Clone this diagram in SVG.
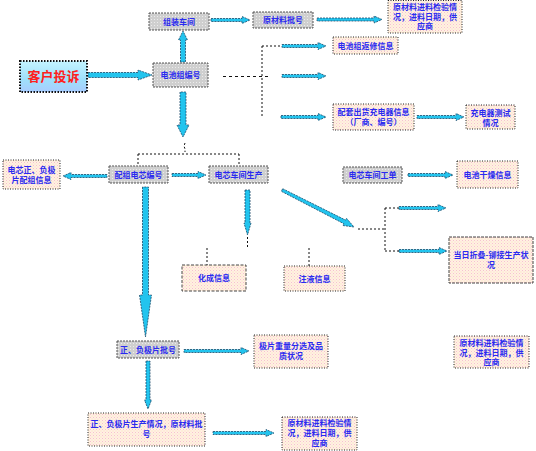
<svg xmlns="http://www.w3.org/2000/svg" width="536" height="451" viewBox="0 0 536 451">
<defs>
<pattern id="pk" width="3" height="3" patternUnits="userSpaceOnUse"><rect width="3" height="3" fill="#fff0e4"/><rect width="1" height="1" fill="#f6c4cc"/><rect x="1.5" y="1.5" width="1" height="1" fill="#fbe0b8"/></pattern>
<pattern id="gy" width="3" height="3" patternUnits="userSpaceOnUse"><rect width="3" height="3" fill="#cfcfcf"/><rect x="1" y="1" width="1" height="1" fill="#ececec"/></pattern>
<linearGradient id="bl" x1="0" y1="0" x2="0" y2="1"><stop offset="0" stop-color="#c4f4ff"/><stop offset="0.6" stop-color="#9ee0fb"/><stop offset="1" stop-color="#a8ccff"/></linearGradient>
</defs>
<style>
.g{fill:url(#gy);stroke:#555;stroke-width:1;stroke-dasharray:2 1}
.p{fill:url(#pk);stroke:#222;stroke-width:1;stroke-dasharray:1 1.5}
.t{font-family:"Noto Sans CJK SC","Noto Sans",sans-serif;font-size:8px;font-weight:bold;fill:#2a2af0;text-anchor:middle}
.ar{fill:#22c4ee;stroke:#1d4a6a;stroke-width:0.8;stroke-dasharray:2 1}
.d{fill:none;stroke:#111;stroke-width:1;stroke-dasharray:2 2}
</style>

<g id="connectors">
<polygon class="ar" points="88,72.5 138,72.5 138,70 152,75 138,80 138,77.5 88,77.5"/>
<polygon class="ar" points="180.5,62 180.5,40 178.5,40 183,31 187.5,40 185.5,40 185.5,62"/>
<polygon class="ar" points="211,18.5 242,18.5 242,16.5 250,20 242,23.5 242,21.5 211,21.5"/>
<polygon class="ar" points="317,18 374,18 374,16 382,19.5 374,23 374,21 317,21"/>
<polygon class="ar" points="282,44.5 318,44.5 318,42.5 326,46 318,49.5 318,47.5 282,47.5"/>
<polygon class="ar" points="282,74.5 318,74.5 318,72.5 326,76 318,79.5 318,77.5 282,77.5"/>
<polygon class="ar" points="281,115.5 318,115.5 318,113.5 326,117 318,120.5 318,118.5 281,118.5"/>
<polygon class="ar" points="417,115.5 456,115.5 456,113.5 464,117 456,120.5 456,118.5 417,118.5"/>
<polygon class="ar" points="180,92 180,125 177,125 183,137 189,125 186,125 186,92"/>
<polygon class="ar" points="107,174.5 71,174.5 71,172.5 63,176 71,179.5 71,177.5 107,177.5"/>
<polygon class="ar" points="172,173.5 198,173.5 198,171.5 206,175 198,178.5 198,176.5 172,176.5"/>
<polygon class="ar" points="408,173.5 445,173.5 445,171.5 453,175 445,178.5 445,176.5 408,176.5"/>
<polygon class="ar" points="245,190 245,223 244,223 247.5,235 251,223 250,223 250,190"/>
<polygon class="ar" points="282.7,188.7 345.6,220.1 346.5,218.3 354,227 342.9,225.5 343.8,223.7 281.3,191.3"/>
<polygon class="ar" points="399,206.5 438,206.5 438,204.5 446,208 438,211.5 438,209.5 399,209.5"/>
<polygon class="ar" points="399,249.5 439,249.5 439,247.5 447,251 439,254.5 439,252.5 399,252.5"/>
<polygon class="ar" points="142.5,187 142.5,295 139.5,295 145.5,337 151.5,295 148.5,295 148.5,187"/>
<polygon class="ar" points="146,361 146,400 144.5,400 148,409 151.5,400 150,400 150,361"/>
<polygon class="ar" points="184,349.5 241,349.5 241,347.5 249,351 241,354.5 241,352.5 184,352.5"/>
<polygon class="ar" points="213,431.5 266,431.5 266,429.5 274,433 266,436.5 266,434.5 213,434.5"/>
<path class="d" d="M223,76.5 H270" style="stroke-dasharray:3 3"/>
<path class="d" d="M262,46 V118 M262,46 H282"/>
<path class="d" d="M185,143 l-1,3 l1,3 V152"/>
<path class="d" d="M138,154 H239 M138,154 V166 M239,154 V166"/>
<path class="d" d="M247.5,237 V249"/>
<path class="d" d="M207,248 V265 M309,248 V266"/>
<path class="d" d="M358,229 H385 M385,208 V251 M385,208 H399 M385,251 H399"/>
</g>

<g id="n1"><rect x="20" y="61" width="67" height="31" fill="url(#bl)" stroke="#111" stroke-width="2" stroke-dasharray="1.5 1.5"/><text x="53.5" y="81" style="font-family:'Noto Sans CJK SC',sans-serif;font-size:13px;font-weight:bold;fill:#ff2020;text-anchor:middle">客户投诉</text></g>
<g id="n2"><rect class="g" x="149" y="13" width="60" height="17"/><text class="t" x="179" y="24.5">组装车间</text></g>
<g id="n3"><rect class="g" x="153" y="63" width="55" height="24"/><text class="t" x="180.5" y="78">电池组编号</text></g>
<g id="n4"><rect class="g" x="253" y="12" width="60" height="16"/><text class="t" x="283" y="23">原材料批号</text></g>
<g id="n5"><rect class="p" x="388" y="0.5" width="74" height="32.5"/><text class="t" x="425" y="10">原材料进料检验情</text><text class="t" x="425" y="19.5">况，进料日期，供</text><text class="t" x="425" y="29">应商</text></g>
<g id="n6"><rect class="p" x="333" y="37" width="65" height="17"/><text class="t" x="365.5" y="48.5">电池组返修信息</text></g>
<g id="n7"><rect class="p" x="333" y="104" width="81" height="26"/><text class="t" x="373.5" y="115">配套出货充电器信息</text><text class="t" x="373.5" y="125">（厂商、编号）</text></g>
<g id="n8"><rect class="p" x="466" y="105" width="49" height="24"/><text class="t" x="490.5" y="115.5">充电器测试</text><text class="t" x="490.5" y="125.5">情况</text></g>
<g id="n9"><rect class="g" x="343" y="167" width="59" height="16"/><text class="t" x="372.5" y="178">电芯车间工单</text></g>
<g id="n10"><rect class="p" x="457" y="161" width="61" height="27"/><text class="t" x="487.5" y="177.5">电池干燥信息</text></g>
<g id="n11"><rect class="p" x="3" y="160" width="57" height="29"/><text class="t" x="31.5" y="173">电芯正、负极</text><text class="t" x="31.5" y="183">片配组信息</text></g>
<g id="n12"><rect class="g" x="109" y="166" width="59" height="17"/><text class="t" x="138.5" y="178">配组电芯编号</text></g>
<g id="n13"><rect class="g" x="209" y="166" width="59" height="17"/><text class="t" x="238.5" y="178">电芯车间生产</text></g>
<g id="n14"><rect class="p" x="182" y="265" width="64" height="26" style="stroke:#444;stroke-dasharray:3 1.5"/><text class="t" x="214" y="281">化成信息</text></g>
<g id="n15"><rect class="p" x="284" y="266" width="61" height="25"/><text class="t" x="314.5" y="282">注液信息</text></g>
<g id="n16"><rect class="p" x="449" y="237" width="84" height="46" style="stroke:#444;stroke-dasharray:3 1"/><text class="t" x="491" y="258">当日折叠-铆接生产状</text><text class="t" x="491" y="267.5">况</text></g>
<g id="n17"><rect class="g" x="117" y="341" width="62" height="17"/><text class="t" x="148" y="353">正、负极片批号</text></g>
<g id="n18"><rect class="p" x="254" y="335" width="74" height="33"/><text class="t" x="291" y="349">极片重量分选及品</text><text class="t" x="291" y="359">质状况</text></g>
<g id="n19"><rect class="p" x="454" y="336" width="75" height="32"/><text class="t" x="491.5" y="346">原材料进料检验情</text><text class="t" x="491.5" y="355.5">况，进料日期，供</text><text class="t" x="491.5" y="365">应商</text></g>
<g id="n20"><rect class="p" x="88" y="413" width="117" height="33"/><text class="t" x="146.5" y="427">正、负极片生产情况，原材料批</text><text class="t" x="146.5" y="437">号</text></g>
<g id="n21"><rect class="p" x="282" y="417" width="75" height="33"/><text class="t" x="319.5" y="426">原材料进料检验情</text><text class="t" x="319.5" y="436">况，进料日期，供</text><text class="t" x="319.5" y="446">应商</text></g>
</svg>
